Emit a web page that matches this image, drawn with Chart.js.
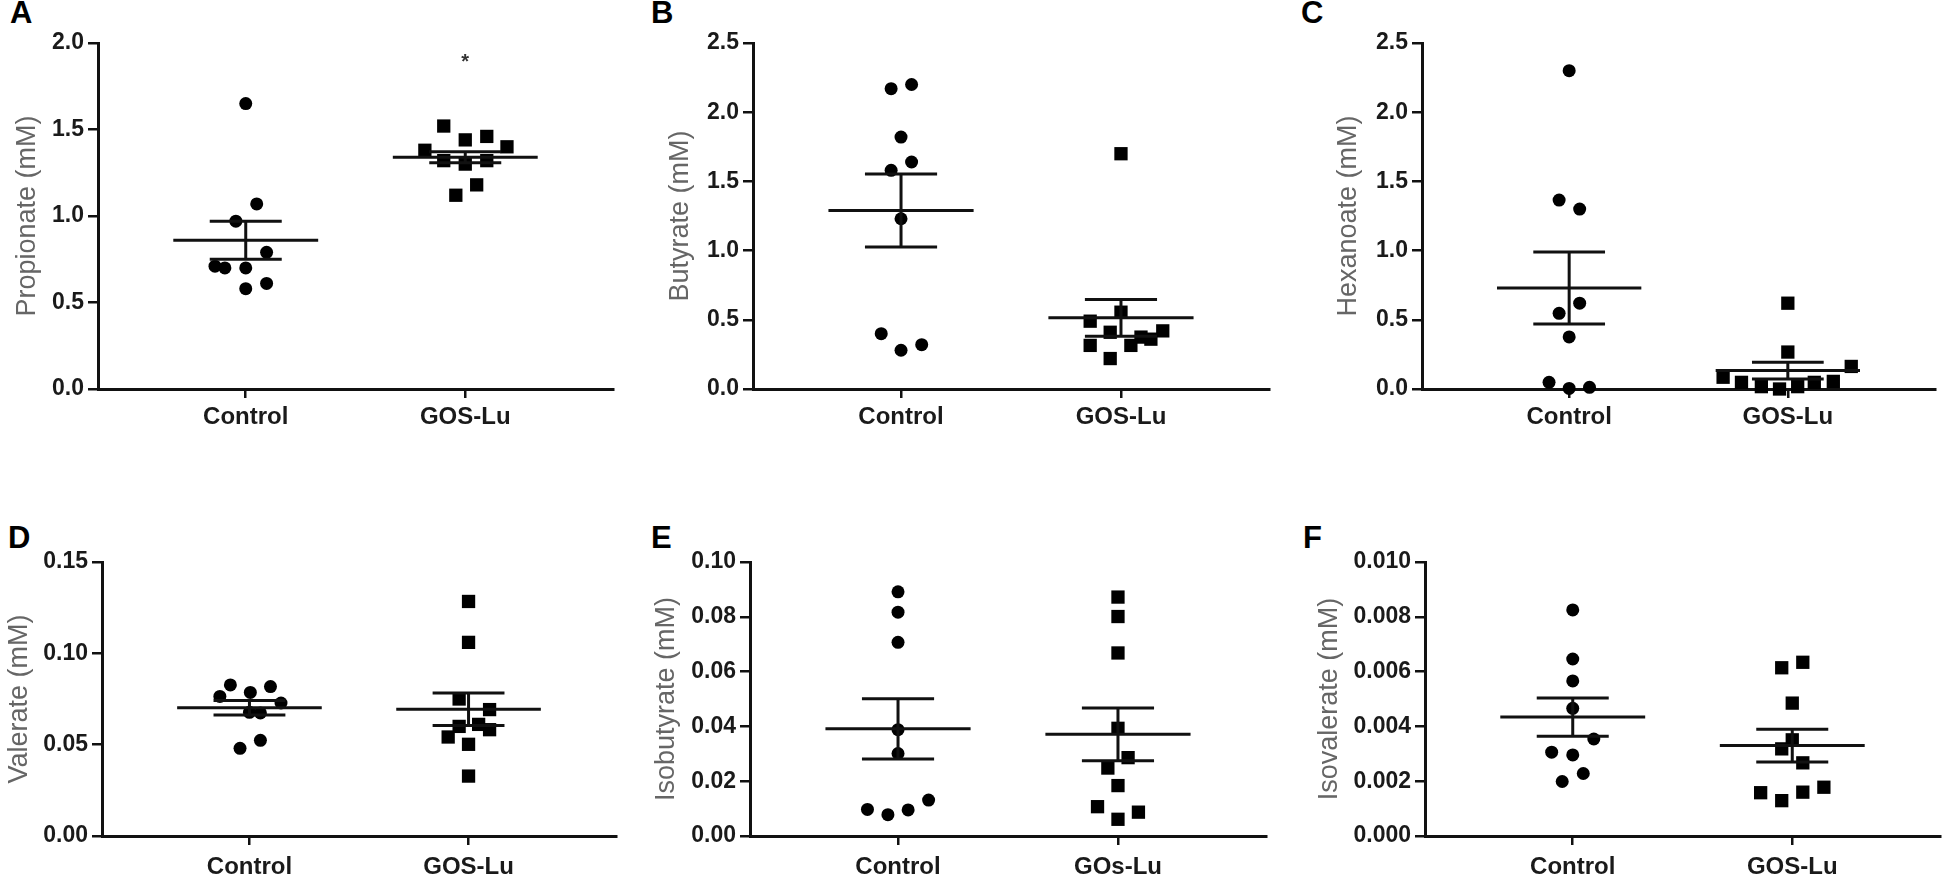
<!DOCTYPE html>
<html lang="en">
<head>
<meta charset="UTF-8">
<title>Short chain fatty acids - Control vs GOS-Lu</title>
<script src="https://cdn.jsdelivr.net/npm/chart.js"></script>
<style>
    body {
        margin: 0;
        width: 1950px;
        height: 880px;
        overflow: hidden;
        position: relative;
        background: #fff;
        font-family: "Liberation Sans", Arial, sans-serif;
    }
    canvas { position: absolute; }
    .letter {
        position: absolute;
        font-size: 31px;
        line-height: 31px;
        font-weight: bold;
        color: #000;
    }
</style>
</head>
<body>
<div class="letter" style="left:10px;top:-3px">A</div>
<div class="letter" style="left:651px;top:-3px">B</div>
<div class="letter" style="left:1301px;top:-3px">C</div>
<div class="letter" style="left:8px;top:522px">D</div>
<div class="letter" style="left:651px;top:522px">E</div>
<div class="letter" style="left:1303px;top:522px">F</div>

<script>
// groups on the x axis
const groups = ['Control', 'GOS-Lu'];
const groupsE = ['Control', 'GOs-Lu'];

// A - propionate
const propionateTicks = ['0.0', '0.5', '1.0', '1.5', '2.0'];
const propionateCtrl = [1.65, 1.07, 0.97, 0.79, 0.71, 0.70, 0.70, 0.61, 0.58];
const propionateCtrlDx = [0, 0.05, -0.045, 0.095, -0.14, -0.095, 0, 0.095, 0];
const propionateGos = [1.52, 1.44, 1.46, 1.40, 1.38, 1.32, 1.30, 1.32, 1.18, 1.12];
const propionateGosDx = [-0.098, 0, 0.098, 0.19, -0.184, -0.098, 0, 0.098, 0.052, -0.043];
const propionateMean = [0.86, 1.34];
const propionateSem = [0.11, 0.032];
const propionateStar = 1.92; // '*' above GOS-Lu

// B - butyrate
const butyrateTicks = ['0.0', '0.5', '1.0', '1.5', '2.0', '2.5'];
const butyrateCtrl = [2.17, 2.20, 1.82, 1.64, 1.58, 1.23, 0.40, 0.28, 0.32];
const butyrateCtrlDx = [-0.045, 0.048, 0, 0.048, -0.045, 0, -0.09, 0, 0.094];
const butyrateGos = [1.70, 0.555, 0.49, 0.41, 0.42, 0.375, 0.36, 0.315, 0.315, 0.22];
const butyrateGosDx = [0, 0, -0.14, -0.049, 0.19, 0.091, 0.136, -0.14, 0.045, -0.049];
const butyrateMean = [1.29, 0.514];
const butyrateSem = [0.264, 0.133];

// C - hexanoate
const hexanoateTicks = ['0.0', '0.5', '1.0', '1.5', '2.0', '2.5'];
const hexanoateCtrl = [2.30, 1.365, 1.30, 0.62, 0.547, 0.376, 0.048, 0.004, 0.012];
const hexanoateCtrlDx = [0, -0.046, 0.048, 0.048, -0.046, 0, -0.092, 0, 0.093];
const hexanoateGos = [0.62, 0.267, 0.163, 0.085, 0.048, 0.017, 0.0, 0.017, 0.048, 0.055];
const hexanoateGosDx = [0, 0, 0.29, -0.296, -0.212, -0.121, -0.038, 0.045, 0.121, 0.208];
const hexanoateMean = [0.73, 0.133];
const hexanoateSem = [0.26, 0.061];

// D - valerate
const valerateTicks = ['0.00', '0.05', '0.10', '0.15'];
const valerateCtrl = [0.0827, 0.0818, 0.0764, 0.0786, 0.0728, 0.0677, 0.0674, 0.0524, 0.0480];
const valerateCtrlDx = [-0.087, 0.096, -0.135, 0.004, 0.144, 0, 0.05, 0.05, -0.043];
const valerateGos = [0.1284, 0.106, 0.075, 0.0692, 0.060, 0.0611, 0.0582, 0.0542, 0.0502, 0.0328];
const valerateGosDx = [0, 0, -0.043, 0.096, -0.043, 0.046, 0.096, -0.093, 0, 0];
const valerateMean = [0.0702, 0.0694];
const valerateSem = [0.0040, 0.0089];

// E - isobutyrate
const isobutyrateTicks = ['0.00', '0.02', '0.04', '0.06', '0.08', '0.10'];
const isobutyrateCtrl = [0.0891, 0.0817, 0.0707, 0.0388, 0.0301, 0.0131, 0.0097, 0.0095, 0.0078];
const isobutyrateCtrlDx = [0, 0, 0, 0, 0, 0.139, -0.139, 0.046, -0.046];
const isobutyrateGos = [0.0872, 0.0801, 0.0668, 0.0393, 0.0286, 0.0248, 0.0184, 0.0107, 0.0087, 0.0061];
const isobutyrateGosDx = [0, 0, 0, 0, 0.046, -0.046, 0, -0.093, 0.093, 0];
const isobutyrateMean = [0.0391, 0.0371];
const isobutyrateSem = [0.011, 0.0096];

// F - isovalerate
const isovalerateTicks = ['0.000', '0.002', '0.004', '0.006', '0.008', '0.010'];
const isovalerateCtrl = [0.00825, 0.00646, 0.00566, 0.00466, 0.00354, 0.00306, 0.00296, 0.00228, 0.00199];
const isovalerateCtrlDx = [0, 0, 0, 0, 0.096, -0.096, 0, 0.048, -0.048];
const isovalerateGos = [0.00634, 0.00614, 0.00485, 0.00351, 0.00318, 0.00267, 0.00178, 0.00158, 0.0016, 0.00129];
const isovalerateGosDx = [0.048, -0.048, 0, 0, -0.048, 0.048, 0.144, -0.144, 0.048, -0.048];
const isovalerateMean = [0.00434, 0.0033];
const isovalerateSem = [0.0007, 0.0006];

const FONT = '"Liberation Sans", Arial, sans-serif';
const INK = '#111';
const MEAN_HALF = 0.33;   // half length of the mean line, in group units
const CAP_HALF = 0.164;   // half length of the SEM caps

// canvas placement and plot box (canvas pixels) for each panel
const panels = [
    { label: 'Propionate (mM)', cats: groups, ticks: propionateTicks,
      ctrl: propionateCtrl, ctrlDx: propionateCtrlDx, gos: propionateGos, gosDx: propionateGosDx,
      mean: propionateMean, sem: propionateSem, star: propionateStar,
      left: 0, top: 0, box: { l: 98, r: 613, t: 43, b: 389 }, titleX: 28, xPad: 5 },
    { label: 'Butyrate (mM)', cats: groups, ticks: butyrateTicks,
      ctrl: butyrateCtrl, ctrlDx: butyrateCtrlDx, gos: butyrateGos, gosDx: butyrateGosDx,
      mean: butyrateMean, sem: butyrateSem,
      left: 650, top: 0, box: { l: 103, r: 619, t: 43, b: 389 }, titleX: 31, xPad: 5 },
    { label: 'Hexanoate (mM)', cats: groups, ticks: hexanoateTicks,
      ctrl: hexanoateCtrl, ctrlDx: hexanoateCtrlDx, gos: hexanoateGos, gosDx: hexanoateGosDx,
      mean: hexanoateMean, sem: hexanoateSem,
      left: 1300, top: 0, box: { l: 122, r: 635, t: 43, b: 389 }, titleX: 49, xPad: 5 },
    { label: 'Valerate (mM)', cats: groups, ticks: valerateTicks,
      ctrl: valerateCtrl, ctrlDx: valerateCtrlDx, gos: valerateGos, gosDx: valerateGosDx,
      mean: valerateMean, sem: valerateSem,
      left: 0, top: 440, box: { l: 102, r: 616, t: 122, b: 396 }, titleX: 20, xPad: 8 },
    { label: 'Isobutyrate (mM)', cats: groupsE, ticks: isobutyrateTicks,
      ctrl: isobutyrateCtrl, ctrlDx: isobutyrateCtrlDx, gos: isobutyrateGos, gosDx: isobutyrateGosDx,
      mean: isobutyrateMean, sem: isobutyrateSem,
      left: 650, top: 440, box: { l: 100, r: 616, t: 122, b: 396 }, titleX: 17, xPad: 8 },
    { label: 'Isovalerate (mM)', cats: groups, ticks: isovalerateTicks,
      ctrl: isovalerateCtrl, ctrlDx: isovalerateCtrlDx, gos: isovalerateGos, gosDx: isovalerateGosDx,
      mean: isovalerateMean, sem: isovalerateSem,
      left: 1300, top: 440, box: { l: 125, r: 640, t: 122, b: 396 }, titleX: 30, xPad: 8 }
];

function scatterPoints(values, dx, centre) {
    return values.map((v, i) => ({ x: centre + dx[i], y: v }));
}

// mean line, SEM caps and stem, broken by null gaps
function errorBars(mean, sem) {
    const pts = [];
    mean.forEach((m, g) => {
        const c = g + 1;
        const hi = m + sem[g], lo = m - sem[g];
        pts.push({ x: c - MEAN_HALF, y: m }, { x: c + MEAN_HALF, y: m }, { x: c, y: null });
        pts.push({ x: c - CAP_HALF, y: hi }, { x: c + CAP_HALF, y: hi }, { x: c, y: null });
        pts.push({ x: c - CAP_HALF, y: lo }, { x: c + CAP_HALF, y: lo }, { x: c, y: null });
        pts.push({ x: c, y: lo }, { x: c, y: hi }, { x: c, y: null });
    });
    return pts;
}

const starPlugin = {
    id: 'star',
    afterDatasetsDraw(chart, args, opts) {
        if (opts.value == null) return;
        const { ctx, scales } = chart;
        const x = scales.x.getPixelForValue(2);
        const y = scales.y.getPixelForValue(opts.value);
        ctx.save();
        ctx.fillStyle = '#333';
        ctx.font = 'bold 20px ' + FONT;
        ctx.textAlign = 'center';
        ctx.textBaseline = 'alphabetic';
        ctx.fillText('*', x, y + 11.5);
        ctx.restore();
    }
};

function makeChart(p) {
    const canvas = document.createElement('canvas');
    canvas.width = 650;
    canvas.height = 440;
    canvas.style.left = p.left + 'px';
    canvas.style.top = p.top + 'px';
    document.body.appendChild(canvas);

    const tickVals = p.ticks.map(t => parseFloat(t));
    const titleSize = 27;
    const titleLH = titleSize * 1.2;

    new Chart(canvas, {
        type: 'scatter',
        data: {
            datasets: [
                {
                    data: errorBars(p.mean, p.sem),
                    showLine: true,
                    spanGaps: false,
                    borderColor: INK,
                    borderWidth: 3,
                    pointRadius: 0,
                    clip: false,
                    order: 0
                },
                {
                    data: scatterPoints(p.ctrl, p.ctrlDx, 1),
                    pointStyle: 'circle',
                    pointRadius: 6.5,
                    backgroundColor: '#000',
                    borderWidth: 0,
                    clip: false,
                    order: 1
                },
                {
                    data: scatterPoints(p.gos, p.gosDx, 2),
                    pointStyle: 'rect',
                    pointRadius: 9.4,
                    backgroundColor: '#000',
                    borderWidth: 0,
                    clip: false,
                    order: 1
                }
            ]
        },
        options: {
            responsive: false,
            animation: false,
            devicePixelRatio: 1,
            events: [],
            layout: { padding: { left: 0, top: p.box.t, right: 650 - p.box.r, bottom: 0 } },
            plugins: {
                legend: { display: false },
                tooltip: { enabled: false },
                star: { value: p.star }
            },
            scales: {
                x: {
                    type: 'linear',
                    min: 0.327,
                    max: 2.673,
                    afterBuildTicks: s => { s.ticks = [{ value: 1 }, { value: 2 }]; },
                    afterFit: s => { s.height = 440 - p.box.b; },
                    ticks: {
                        callback: (v, i) => p.cats[i],
                        color: '#1a1a1a',
                        font: { family: FONT, size: 24, weight: 'bold' },
                        padding: p.xPad,
                        maxRotation: 0,
                        autoSkip: false
                    },
                    grid: { display: true, drawOnChartArea: false, drawTicks: true, tickLength: 9, color: INK, lineWidth: 2.5 },
                    border: { display: true, color: INK, width: 3 }
                },
                y: {
                    min: tickVals[0],
                    max: tickVals[tickVals.length - 1],
                    afterBuildTicks: s => { s.ticks = tickVals.map(v => ({ value: v })); },
                    afterFit: s => { s.width = p.box.l; },
                    ticks: {
                        callback: (v, i) => p.ticks[i],
                        color: '#1a1a1a',
                        font: { family: FONT, size: 23, weight: 'bold' },
                        padding: 4,
                        autoSkip: false
                    },
                    grid: { display: true, drawOnChartArea: false, drawTicks: true, tickLength: 10, color: INK, lineWidth: 2.5 },
                    border: { display: true, color: INK, width: 3 },
                    title: {
                        display: true,
                        text: p.label,
                        color: '#666',
                        font: { family: FONT, size: titleSize },
                        padding: { top: p.titleX - titleLH / 2, bottom: 0 }
                    }
                }
            }
        },
        plugins: [starPlugin]
    });
}

panels.forEach(makeChart);
</script>
</body>
</html>
